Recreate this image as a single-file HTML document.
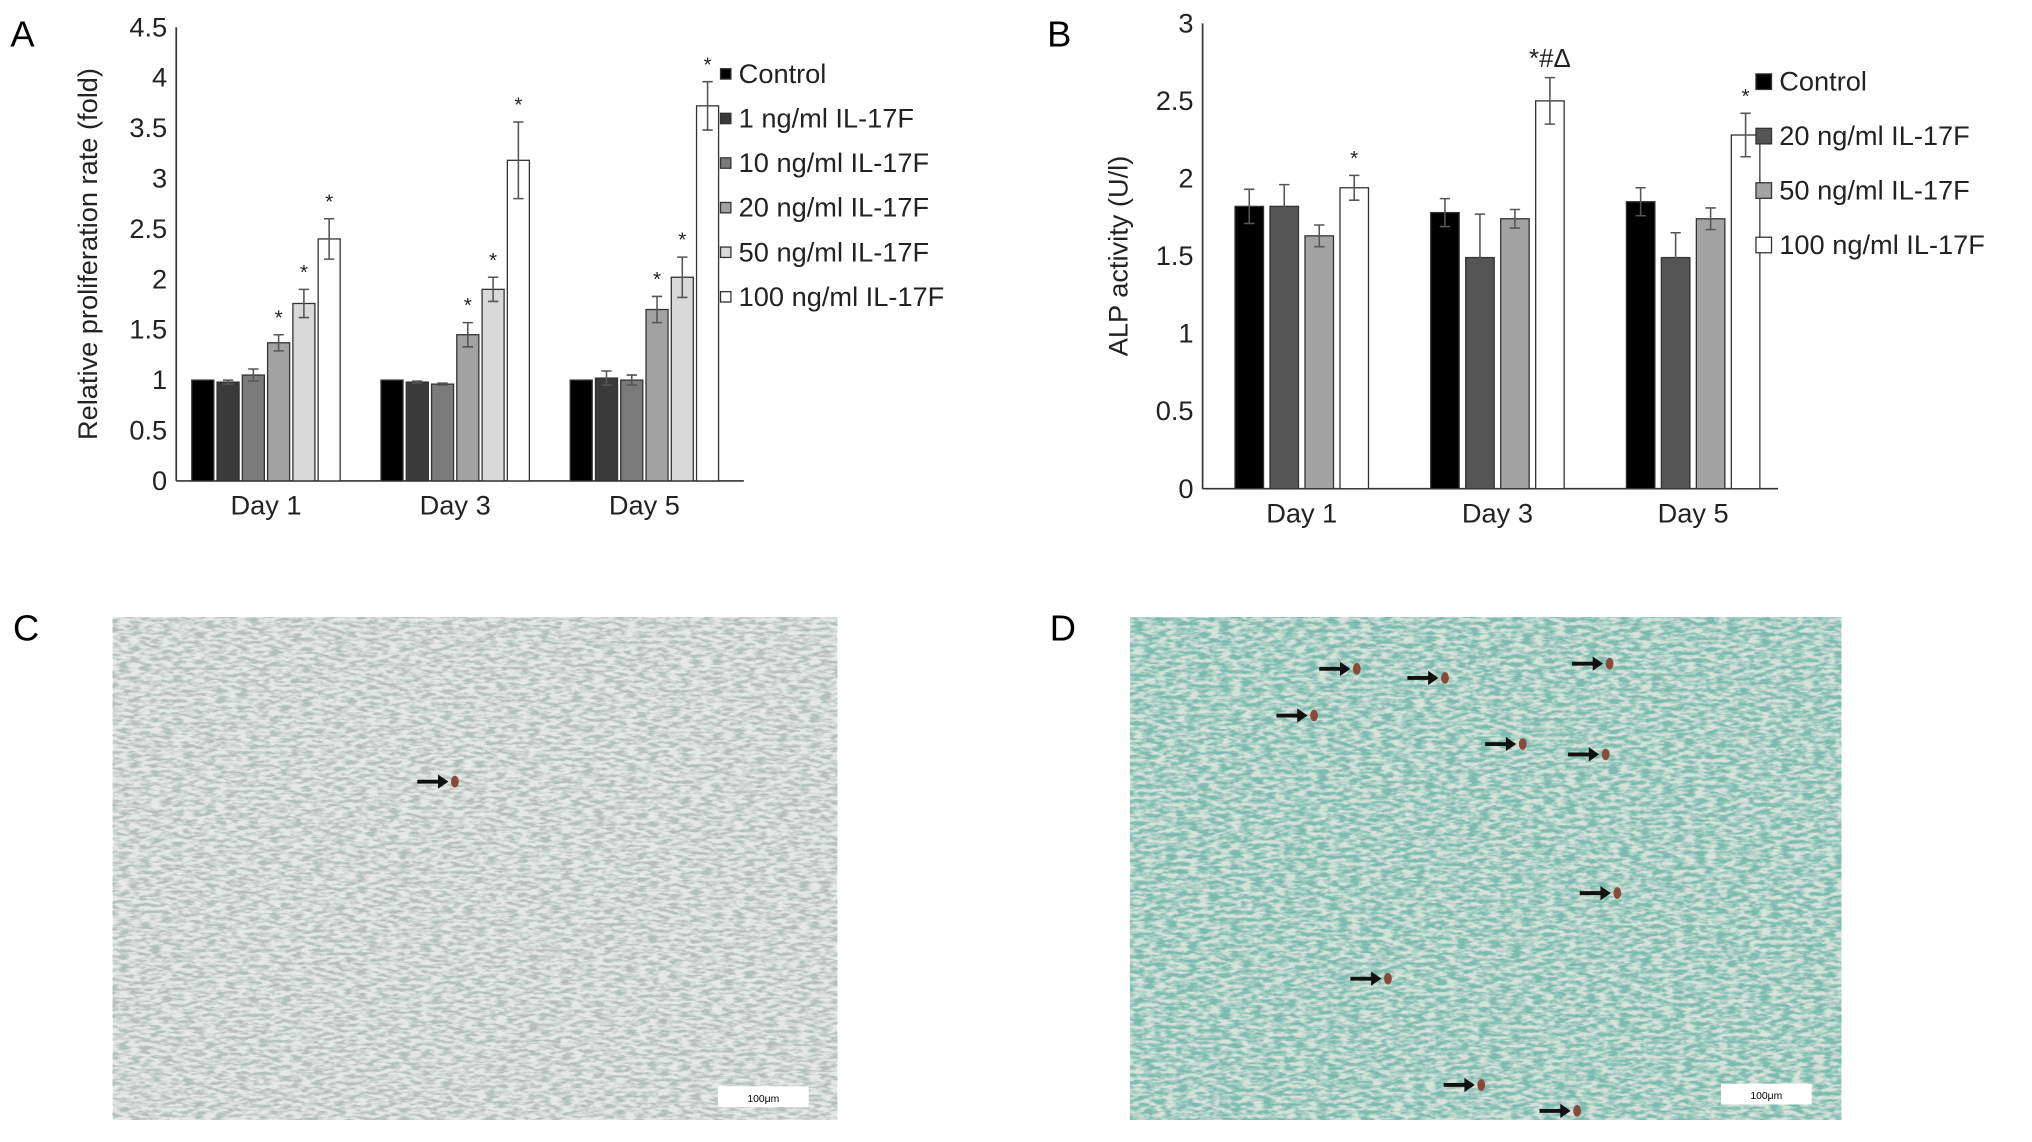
<!DOCTYPE html>
<html><head><meta charset="utf-8">
<style>
html,body{margin:0;padding:0;background:#fff;}
svg{display:block;font-family:"Liberation Sans",sans-serif;}
</style></head>
<body>
<svg id="fig" width="2032" height="1142" viewBox="0 0 1568 881" preserveAspectRatio="none" xmlns="http://www.w3.org/2000/svg">
<defs>
<filter id="texC" x="0" y="0" width="1" height="1">
<feTurbulence type="fractalNoise" baseFrequency="0.12 0.4" numOctaves="3" seed="3" result="n"/>
<feColorMatrix in="n" type="matrix" values="0 0 0 0 0.45  0 0 0 0 0.52  0 0 0 0 0.5  0 0 0 -3.2 2.0"/>
</filter>
<filter id="texD" x="0" y="0" width="1" height="1">
<feTurbulence type="fractalNoise" baseFrequency="0.12 0.35" numOctaves="3" seed="7" result="n"/>
<feColorMatrix in="n" type="matrix" values="0 0 0 0 0.2  0 0 0 0 0.5  0 0 0 0 0.43  0 0 0 -3.0 2.0"/>
</filter>
</defs>
<g id="chartA"></g>
<g id="chartB"></g>
<g id="photos">
 <text x="10" y="494" font-size="28">C</text>
 <rect x="87" y="476" width="559" height="388" fill="#e6e8e6"/>
 <rect x="87" y="476" width="559" height="388" filter="url(#texC)"/>
 <rect x="554" y="838" width="70" height="16" fill="#fff"/>
 <text x="589" y="850" font-size="8" text-anchor="middle">100μm</text>
 <text x="810" y="494" font-size="28">D</text>
 <rect x="872" y="476" width="549" height="388" fill="#d6e2da"/>
 <rect x="872" y="476" width="549" height="388" filter="url(#texD)"/>
 <rect x="1328" y="836" width="70" height="16" fill="#fff"/>
 <text x="1363" y="848" font-size="8" text-anchor="middle">100μm</text>
 <g id="arrows"></g>
</g>
</svg>
<script>
const NS="http://www.w3.org/2000/svg";
function mk(p,t,a){const e=document.createElementNS(NS,t);for(const k in a)e.setAttribute(k,a[k]);p.appendChild(e);return e;}

// ---- Chart A data ----
const catsA=["Day 1","Day 3","Day 5"];
const seriesA=["Control","1 ng/ml IL-17F","10 ng/ml IL-17F","20 ng/ml IL-17F","50 ng/ml IL-17F","100 ng/ml IL-17F"];
const valsA=[[1,0.98,1.05,1.37,1.76,2.4],[1,0.98,0.96,1.45,1.9,3.18],[1,1.02,1.0,1.7,2.02,3.72]];
const errsA=[[0,0.02,0.06,0.08,0.14,0.2],[0,0.01,0.01,0.12,0.12,0.38],[0,0.07,0.05,0.13,0.2,0.24]];
const starsA=[["","","","*","*","*"],["","","","*","*","*"],["","","","*","*","*"]];
const ticksA=[0,0.5,1,1.5,2,2.5,3,3.5,4,4.5];
const colorsA=["#000","#3a3a3a","#7a7a7a","#a2a2a2","#d9d9d9","#fff"];

// ---- Chart B data ----
const catsB=["Day 1","Day 3","Day 5"];
const seriesB=["Control","20 ng/ml IL-17F","50 ng/ml IL-17F","100 ng/ml IL-17F"];
const valsB=[[1.82,1.82,1.63,1.94],[1.78,1.49,1.74,2.5],[1.85,1.49,1.74,2.28]];
const errsB=[[0.11,0.14,0.07,0.08],[0.09,0.28,0.06,0.15],[0.09,0.16,0.07,0.14]];
const starsB=[["","","","*"],["","","","*#Δ"],["","","","*"]];
const ticksB=[0,0.5,1,1.5,2,2.5,3];
const colorsB=["#000","#555","#a3a3a3","#fff"];

function chart(g,o){
 const y=v=>o.y0-(v/o.max)*(o.y0-o.yTop);
 mk(g,"text",{x:o.lblX,y:36,"font-size":28}).textContent=o.panel;
 
 
 const ax=mk(g,"line",{x1:o.x0,y1:o.yTop,x2:o.x0,y2:o.y0,stroke:"#333","stroke-width":1.3});
 
 
 const bx=mk(g,"line",{x1:o.x0,y1:o.y0,x2:o.xEnd,y2:o.y0,stroke:"#333","stroke-width":1.3});
 
 
 o.ticks.forEach(t=>{const e=mk(g,"text",{x:o.x0-7,y:y(t)+7,"font-size":21,"text-anchor":"end",fill:"#222"});e.textContent=t;
  
  });
 const tt=mk(g,"text",{transform:`translate(${o.titleX},${(o.y0+o.yTop)/2}) rotate(-90)`,"font-size":21,"text-anchor":"middle",fill:"#222"});
 tt.textContent=o.title;
 
 
 o.cats.forEach((c,i)=>{
  const gx=o.g0+i*o.gStep;
  const n=o.vals[i].length;
  o.vals[i].forEach((v,j)=>{
   const x=gx+j*(o.bw+o.gap);
   const r=mk(g,"rect",{x:x,y:y(v),width:o.bw,height:o.y0-y(v),fill:o.colors[j],stroke:"#333","stroke-width":1});
   
   
   const e=o.errs[i][j];
   if(e>0){const cx=x+o.bw/2;
    const eb=mk(g,"path",{d:`M${cx},${y(v+e)}V${y(v-e)}M${cx-4},${y(v+e)}H${cx+4}M${cx-4},${y(v-e)}H${cx+4}`,stroke:"#555","stroke-width":1.2,fill:"none"});
    
    }
   if(o.stars[i][j]){const s=mk(g,"text",{x:x+o.bw/2,y:y(v+e)-8,"font-size":o.stars[i][j].length>1?20:16,"text-anchor":"middle",fill:"#222"});s.textContent=o.stars[i][j];
    
    }
  });
  const lx=gx+(n*(o.bw+o.gap)-o.gap)/2;
  const l=mk(g,"text",{x:lx,y:o.y0+26,"font-size":21,"text-anchor":"middle",fill:"#222"});l.textContent=c;
  
  
 });
 o.series.forEach((s,j)=>{
  const ly=o.legY+j*o.legStep;
  const r=mk(g,"rect",{x:o.legX,y:ly-o.sq/2,width:o.sq,height:o.sq,fill:o.colors[j],stroke:"#333","stroke-width":1});
  
  
  const t=mk(g,"text",{x:o.legX+o.sq+6,y:ly+7,"font-size":21,fill:"#222"});t.textContent=s;
  
  
 });
}
chart(document.getElementById("chartA"),{panel:"A",lblX:8,x0:136,xEnd:574,yTop:21,y0:371,max:4.5,ticks:ticksA,title:"Relative proliferation rate (fold)",titleX:75,
 cats:catsA,vals:valsA,errs:errsA,stars:starsA,colors:colorsA,series:seriesA,g0:148,gStep:146,bw:17,gap:2.5,legX:556,legY:57,legStep:34.4,sq:8});
chart(document.getElementById("chartB"),{panel:"B",lblX:808,x0:928,xEnd:1372,yTop:18,y0:377,max:3,ticks:ticksB,title:"ALP activity (U/l)",titleX:870,
 cats:catsB,vals:valsB,errs:errsB,stars:starsB,colors:colorsB,series:seriesB,g0:953,gStep:151,bw:22,gap:5,legX:1355,legY:63,legStep:42,sq:12});

// arrows on micrographs
const arrowPts=[[322,603],[1018,516],[1086,523],[1213,512],[985,552],[1146,574],[1210,582],[1219,689],[1042,755],[1114,837],[1188,857]];
const ag=document.getElementById("arrows");
arrowPts.forEach(p=>{
 const a=mk(ag,"path",{d:`M${p[0]},${p[1]-1.5}h16v-4l8,5.5l-8,5.5v-4h-16z`,fill:"#111"});
 
 
 const d=mk(ag,"ellipse",{cx:p[0]+29,cy:p[1],rx:3,ry:4.5,fill:"#8a4a3a"});
 
 
});
</script>
</body></html>
